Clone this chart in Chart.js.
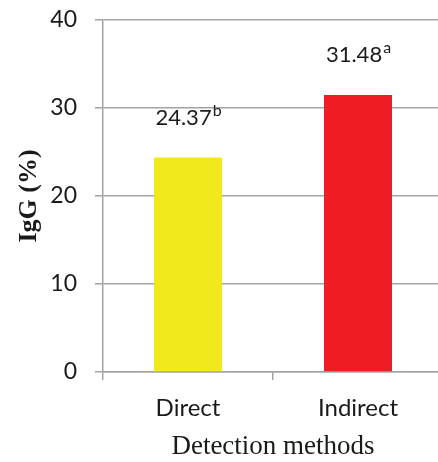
<!DOCTYPE html>
<html>
<head>
<meta charset="utf-8">
<script src="https://cdn.jsdelivr.net/npm/chart.js@4/dist/chart.umd.min.js"></script>
<style>
    html, body { margin: 0; padding: 0; overflow: hidden; background: #fff; }
    #wrap { width: 450px; height: 462px; }
</style>
</head>
<body>
<div id="wrap"><canvas id="chartIgG"></canvas></div>
<script>
// donnees du graphique
var categories = ["Direct", "Indirect"];
var valeurs = [24.37, 31.48];
var lettres = ["b", "a"];
var couleurs = ["#f1e91c", "#ee1d25"];
var ticksY = [0, 10, 20, 30, 40];

var gris = "#a3a3a3";
var policeSans = "Lato, 'Open Sans', sans-serif";
var policeSerif = "'Liberation Serif', 'DejaVu Serif', serif";

// etiquettes au-dessus des barres avec la lettre en exposant
var etiquettes = {
    id: "etiquettes",
    afterDatasetsDraw: function (chart) {
        var ctx = chart.ctx;
        var meta = chart.getDatasetMeta(0);
        ctx.save();
        ctx.fillStyle = "#1a1a1a";
        ctx.textBaseline = "middle";
        meta.data.forEach(function (bar, i) {
            var texte = valeurs[i].toFixed(2);
            ctx.font = "22px " + policeSans;
            var l1 = ctx.measureText(texte).width;
            ctx.font = "16px " + policeSans;
            var l2 = ctx.measureText(lettres[i]).width;
            var x0 = bar.x - (l1 + l2) / 2;
            var y = bar.y - 40;
            ctx.font = "22px " + policeSans;
            ctx.textAlign = "left";
            ctx.fillText(texte, x0, y);
            ctx.font = "16px " + policeSans;
            ctx.fillText(lettres[i], x0 + l1 + 1, y - 7);
        });
        ctx.restore();
    }
};

var ctx = document.getElementById("chartIgG").getContext("2d");

var chartIgG = new Chart(ctx, {
    type: "bar",
    data: {
        labels: categories,
        datasets: [{
            data: valeurs,
            backgroundColor: couleurs,
            borderWidth: 0,
            categoryPercentage: 1,
            barPercentage: 0.4
        }]
    },
    options: {
        responsive: true,
        maintainAspectRatio: false,
        animation: false,
        layout: { padding: { top: 20, right: 7, left: 0, bottom: 0 } },
        plugins: { legend: { display: false }, tooltip: { enabled: false } },
        scales: {
            y: {
                min: 0,
                max: 40,
                afterBuildTicks: function (scale) {
                    scale.ticks = ticksY.map(v => ({ value: v }));
                },
                afterFit: function (scale) {
                    scale.width = 103;
                    scale.paddingTop = 0;
                    scale.paddingBottom = 0;
                },
                grid: { color: gris, lineWidth: 1.5, tickLength: 8 },
                border: { display: true, color: gris, width: 1.5 },
                ticks: { color: "#1a1a1a", padding: 18, font: { family: policeSans, size: 23 } },
                title: {
                    display: true,
                    text: "IgG (%)",
                    color: "#1a1a1a",
                    padding: { top: 14, bottom: 0 },
                    font: { family: policeSerif, size: 26, weight: "bold", lineHeight: 1.2 }
                }
            },
            x: {
                offset: true,
                afterFit: function (scale) { scale.height = 90; },
                grid: { offset: true, drawOnChartArea: false, color: gris, lineWidth: 1.5, tickLength: 8 },
                border: { display: true, color: gris, width: 1.5 },
                ticks: { color: "#1a1a1a", padding: 14, font: { family: policeSans, size: 24, lineHeight: 1.2 } },
                title: {
                    display: true,
                    text: "Detection methods",
                    color: "#1a1a1a",
                    padding: 0,
                    font: { family: policeSerif, size: 27, lineHeight: 1.1 }
                }
            }
        }
    },
    plugins: [etiquettes]
});
</script>
</body>
</html>
